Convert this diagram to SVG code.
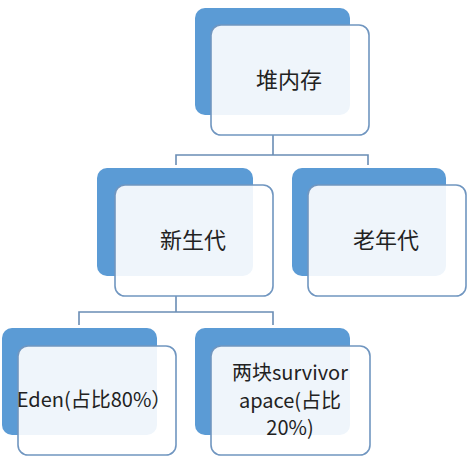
<svg xmlns="http://www.w3.org/2000/svg" width="469" height="460" viewBox="0 0 469 460">
<style>
.back{fill:#5b9bd5;}
.front{fill:#ffffff;fill-opacity:0.9;stroke:#7096c0;stroke-width:1.6;}
.t{font-family:"Noto Sans CJK SC","Noto Sans",sans-serif;fill:#222;text-anchor:middle;}
.c{fill:none;stroke:#6a8db5;stroke-width:1.6;}
</style>
<rect width="469" height="460" fill="#ffffff"/>
<g id="connectors">
<path class="c" d="M273 135 V155 M176 165 V155 H368 V165"/>
<path class="c" d="M176 296 V312 M79 325 V312 H273 V325"/>
</g>
<g id="heap">
<rect class="back" x="195" y="8" width="155" height="107" rx="10"/>
<rect class="front" x="211" y="25" width="158" height="110" rx="10"/>
<text class="t" x="289" y="88" font-size="22">堆内存</text>
</g>
<g id="young">
<rect class="back" x="97" y="168" width="156" height="108" rx="10"/>
<rect class="front" x="115" y="185" width="158" height="111" rx="10"/>
<text class="t" x="193" y="248" font-size="22">新生代</text>
</g>
<g id="old">
<rect class="back" x="292" y="168" width="154" height="108" rx="10"/>
<rect class="front" x="308" y="185" width="158" height="111" rx="10"/>
<text class="t" x="386" y="248" font-size="22">老年代</text>
</g>
<g id="eden">
<rect class="back" x="2" y="328" width="155" height="107" rx="10"/>
<rect class="front" x="18" y="346" width="158" height="109" rx="10"/>
<text class="t" x="94" y="407" font-size="20">Eden(占比80%）</text>
</g>
<g id="survivor">
<rect class="back" x="195" y="328" width="155" height="107" rx="10"/>
<rect class="front" x="211" y="346" width="159" height="109" rx="10"/>
<text class="t" x="290" y="380" font-size="20">两块survivor</text>
<text class="t" x="290" y="408" font-size="20">apace(占比</text>
<text class="t" x="290" y="435" font-size="20">20%)</text>
</g>
</svg>
